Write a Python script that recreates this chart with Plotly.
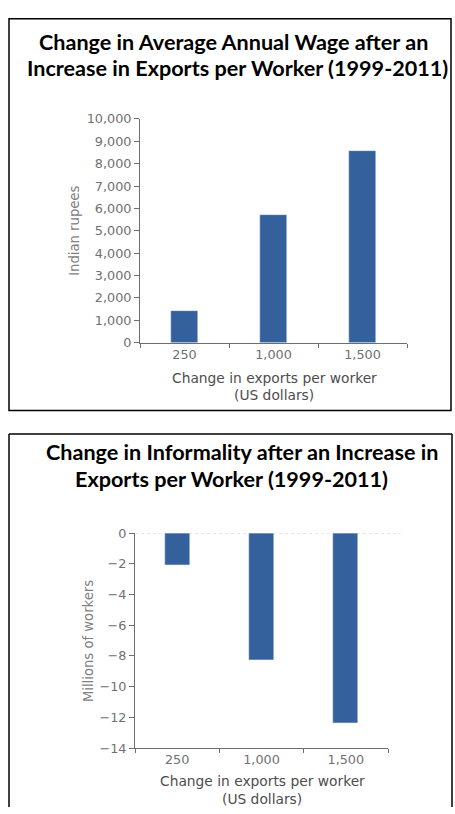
import plotly.graph_objects as go

# Export shock categories (change in exports per worker, US dollars)
categories = ["250", "1,000", "1,500"]

# Change in average annual wage, Indian rupees
wage_change = [1430, 5700, 8550]

# Change in informal employment, millions of workers
informality_change = [-2.1, -8.25, -12.4]

wage_ticks = list(range(0, 10001, 1000))
informality_ticks = list(range(-14, 1, 2))

W, H = 455, 814
BAR = "#34609c"
AXIS = "#6e6e6e"
TICKFONT = dict(family="DejaVu Sans", size=12.8, color="#707070")


def px_x(p):
    return p / W


def px_y(p):
    return 1 - p / H


fig = go.Figure()

fig.add_trace(go.Bar(x=categories, y=wage_change, marker_color=BAR,
                     width=0.31, xaxis="x", yaxis="y", showlegend=False))
fig.add_trace(go.Bar(x=categories, y=informality_change, marker_color=BAR,
                     width=0.30, xaxis="x2", yaxis="y2", showlegend=False))

common_x = dict(type="category", showline=True, linecolor=AXIS, linewidth=1,
                ticks="outside", ticklen=4, tickcolor=AXIS, tickson="boundaries",
                tickfont=TICKFONT, showgrid=False, zeroline=False, fixedrange=True)
common_y = dict(showline=True, linecolor=AXIS, linewidth=1, ticks="outside",
                ticklen=5, tickcolor=AXIS, tickfont=TICKFONT, showgrid=False,
                zeroline=False, fixedrange=True, tickformat=",")

fig.update_layout(
    width=W, height=H,
    margin=dict(l=0, r=0, t=0, b=0),
    paper_bgcolor="white", plot_bgcolor="white",
    bargap=0,
    xaxis=dict(domain=[px_x(140), px_x(407)], anchor="y", **common_x),
    yaxis=dict(domain=[px_y(341), px_y(113)], anchor="x", range=[0, 10000],
               tickvals=wage_ticks, **common_y),
    xaxis2=dict(domain=[px_x(135), px_x(388)], anchor="y2", **common_x),
    yaxis2=dict(domain=[px_y(754), px_y(535)], anchor="x2", range=[-14, 0],
                tickvals=informality_ticks, **common_y),
)

# Panel frames
frame = dict(color="black", width=1.5)
fig.add_shape(type="rect", xref="paper", yref="paper",
              x0=px_x(9), x1=px_x(451), y0=px_y(410), y1=px_y(11), line=frame)
for x0, y0, x1, y1 in [(9, 434, 452, 434), (9, 434, 9, 814), (452, 434, 452, 814)]:
    fig.add_shape(type="line", xref="paper", yref="paper",
                  x0=px_x(x0), y0=px_y(y0), x1=px_x(x1), y1=px_y(y1), line=frame)

# Dotted reference line at zero on the informality chart
fig.add_shape(type="line", xref="x2 domain", yref="y2", x0=0, x1=1.05, y0=0, y1=0,
              line=dict(color="#c8ccd4", width=1, dash="dot"), layer="below")

TITLE = dict(family="Lato", size=21.6, color="black")


def text(s, x, y, font, angle=0):
    fig.add_annotation(text=s, x=px_x(x), y=px_y(y), xref="paper", yref="paper",
                       showarrow=False, xanchor="center", yanchor="middle",
                       font=font, textangle=angle)


# Panel titles
text("<b>Change in Average Annual Wage after an</b>", 234, 35, TITLE)
text("<b>Increase in Exports per Worker (1999-2011)</b>", 237, 61, TITLE)
text("<b>Change in Informality after an Increase in</b>", 242, 452, TITLE)
text("<b>Exports per Worker (1999-2011)</b>", 232, 480, TITLE)

# Axis titles
XT = dict(family="DejaVu Sans", size=13.8, color="#4d4d4d")
YT = dict(family="DejaVu Sans", size=13.2, color="#808080")
text("Change in exports per worker", 274, 377, XT)
text("(US dollars)", 274, 394, XT)
text("Indian rupees", 75, 227, YT, angle=-90)

text("Change in exports per worker", 262, 788, XT)
text("(US dollars)", 262, 806, XT)
text("Millions of workers", 88, 645, YT, angle=-90)

fig.write_html("out.html")
